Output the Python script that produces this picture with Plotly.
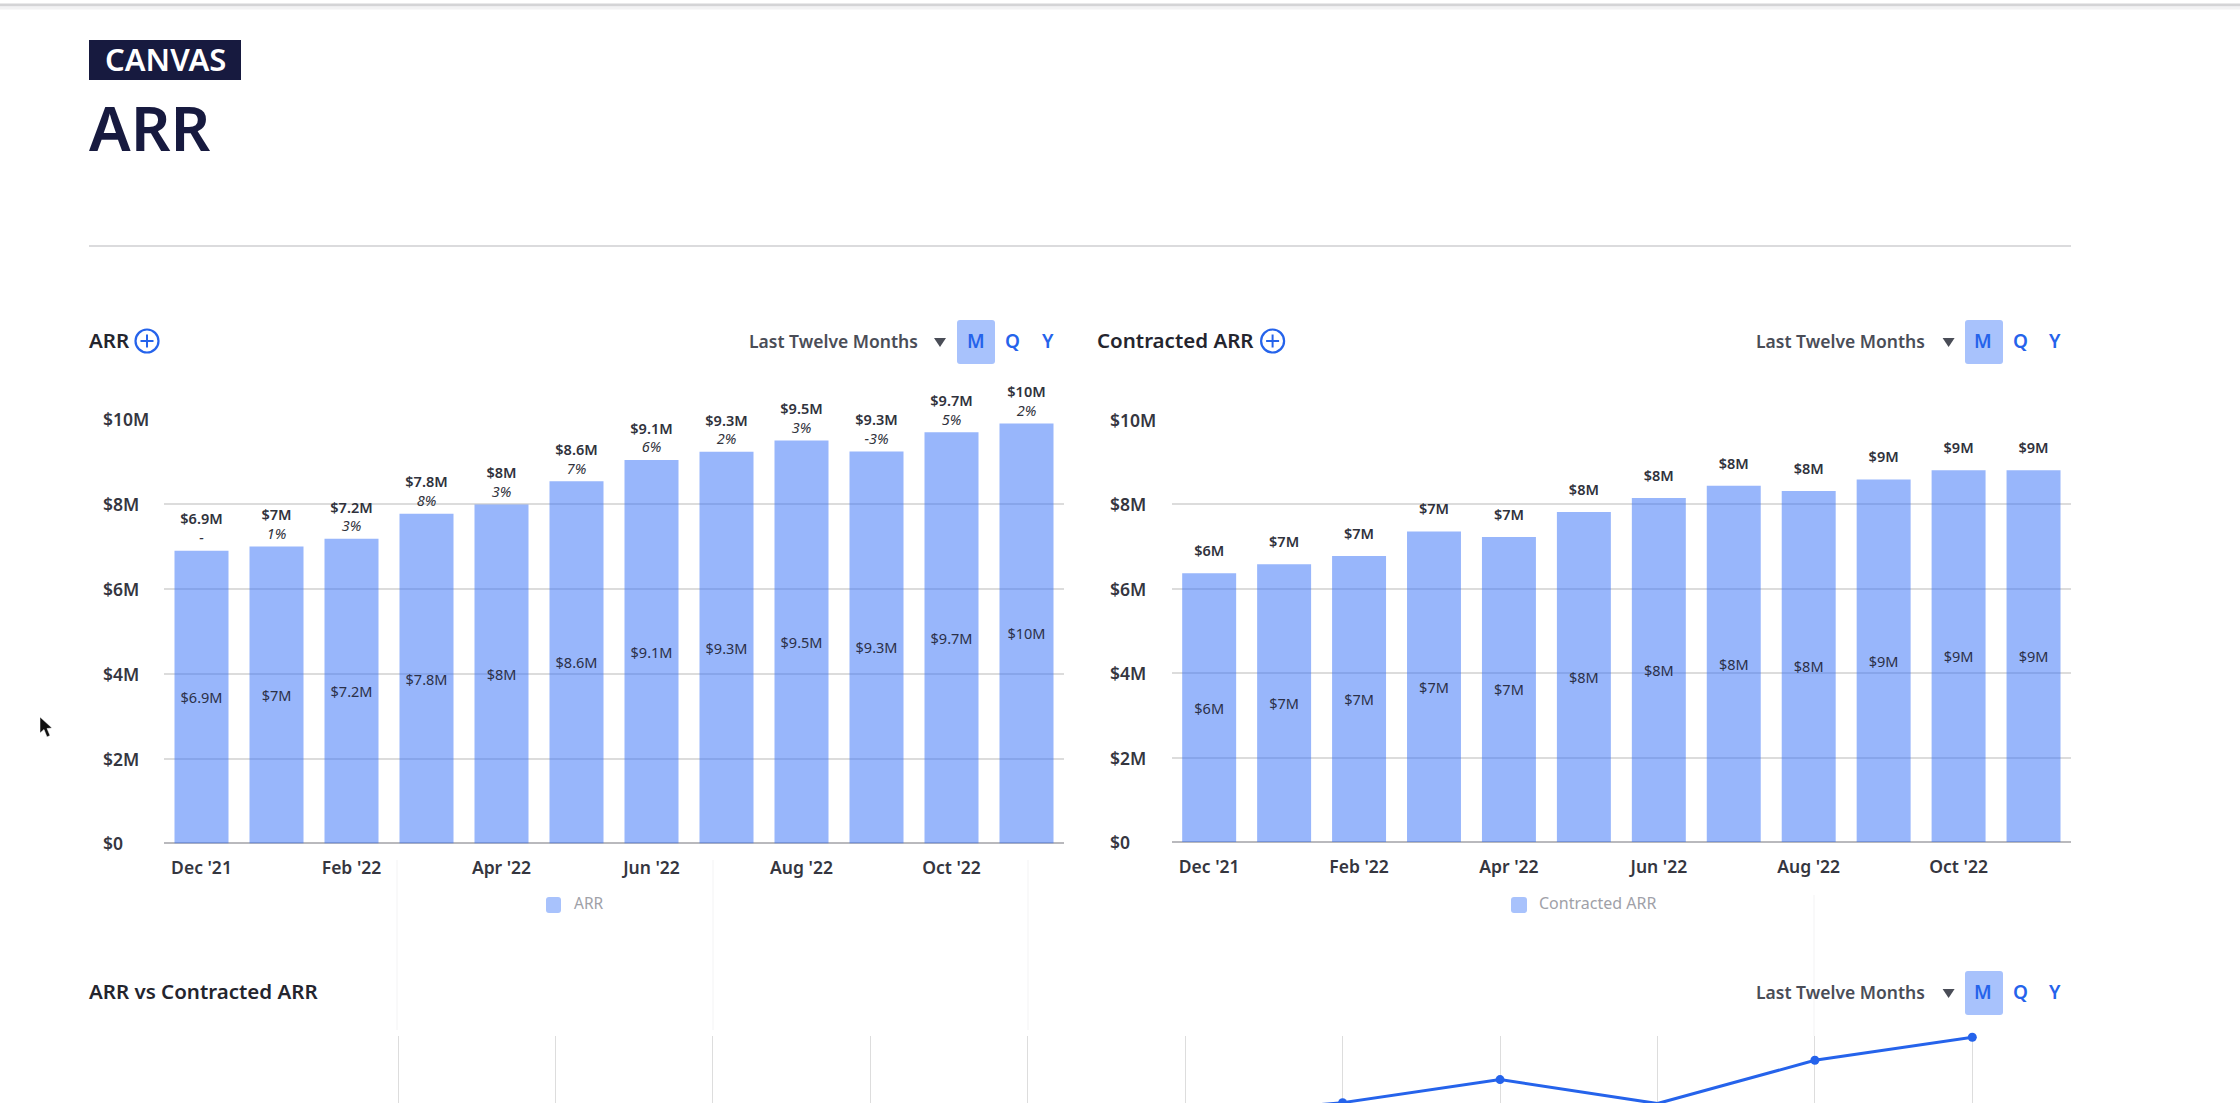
import plotly.graph_objects as go

W = 2240
H = 1103
FONT = "Noto Sans"
NAVY = "#171a3f"
DARK = "#35363f"
BLUE = "#2563eb"
BAR = "rgba(50,110,248,0.5)"
CHIP = "#a8c2fc"

############## Data ###################

months = ["Dec '21", "Jan '22", "Feb '22", "Mar '22", "Apr '22", "May '22",
          "Jun '22", "Jul '22", "Aug '22", "Sep '22", "Oct '22", "Nov '22"]
month_ticks = ["Dec '21", "Feb '22", "Apr '22", "Jun '22", "Aug '22", "Oct '22"]

arr_values = [6.90, 7.00, 7.18, 7.77, 7.99, 8.54, 9.04, 9.23, 9.50, 9.24, 9.69, 9.90]
arr_labels = ["$6.9M", "$7M", "$7.2M", "$7.8M", "$8M", "$8.6M",
              "$9.1M", "$9.3M", "$9.5M", "$9.3M", "$9.7M", "$10M"]
arr_growth = ["-", "1%", "3%", "8%", "3%", "7%", "6%", "2%", "3%", "-3%", "5%", "2%"]

contracted_values = [6.37, 6.58, 6.78, 7.36, 7.23, 7.82, 8.15, 8.44, 8.32, 8.59, 8.81, 8.81]
contracted_labels = ["$6M", "$7M", "$7M", "$7M", "$7M", "$8M",
                     "$8M", "$8M", "$8M", "$9M", "$9M", "$9M"]

# only the last five points of the bottom chart are on screen
line_values = [6.90, 7.00, 7.18, 7.77, 7.99, 8.54, 9.04, 9.19, 9.44, 9.18, 9.65, 9.90]

grid_ticks = [0, 2, 4, 6, 8]
y_ticks = [0, 2, 4, 6, 8, 10]
y_tick_labels = ["$0", "$2M", "$4M", "$6M", "$8M", "$10M"]

range_label = "Last Twelve Months"
period_labels = ["M", "Q", "Y"]


############## Pixel helpers ###################

def px(x):
    return x / W


def py(y):
    return 1 - y / H


def rounded_rect(x0, y0, x1, y1, r, color):
    path = (f"M {px(x0 + r)} {py(y0)} L {px(x1 - r)} {py(y0)} "
            f"Q {px(x1)} {py(y0)} {px(x1)} {py(y0 + r)} L {px(x1)} {py(y1 - r)} "
            f"Q {px(x1)} {py(y1)} {px(x1 - r)} {py(y1)} L {px(x0 + r)} {py(y1)} "
            f"Q {px(x0)} {py(y1)} {px(x0)} {py(y1 - r)} L {px(x0)} {py(y0 + r)} "
            f"Q {px(x0)} {py(y0)} {px(x0 + r)} {py(y0)} Z")
    return dict(type="path", xref="paper", yref="paper", path=path,
                fillcolor=color, line_width=0, layer="below")


def hline(x0, x1, y, color, width=1):
    return dict(type="line", xref="paper", yref="paper", x0=px(x0), x1=px(x1),
                y0=py(y), y1=py(y), line=dict(color=color, width=width), layer="below")


def vline(x, y0, y1, color, width=1):
    return dict(type="line", xref="paper", yref="paper", x0=px(x), x1=px(x),
                y0=py(y0), y1=py(y1), line=dict(color=color, width=width), layer="below")


def label(x, y, text, size=18, color=DARK, anchor="left", weight=400):
    return dict(xref="paper", yref="paper", x=px(x), y=py(y), text=text,
                showarrow=False, xanchor=anchor, yanchor="middle",
                font=dict(family=FONT, size=size, color=color, weight=weight))


def controls(x_text, x_tri, x_btn0, x_btn1, x_letters, yc):
    '''
    Range dropdown and M / Q / Y switch of one panel
    '''
    shapes = [rounded_rect(x_btn0, yc - 22, x_btn1, yc + 22, 3, CHIP)]
    shapes.append(dict(type="path", xref="paper", yref="paper", fillcolor="#4a4d57", line_width=0,
                       path=(f"M {px(x_tri - 6)} {py(yc - 4)} L {px(x_tri + 6)} {py(yc - 4)} "
                             f"L {px(x_tri)} {py(yc + 5)} Z")))
    notes = [label(x_text, yc - 1, range_label, size=17.5, color="#4a4d57", weight=600)]
    for x, letter in zip(x_letters, period_labels):
        notes.append(label(x, yc - 1, letter, size=19, color=BLUE, anchor="center", weight=600))
    return shapes, notes


def plus_icon(x, y):
    return [
        dict(type="circle", xref="paper", yref="paper", x0=px(x - 11.5), x1=px(x + 11.5),
             y0=py(y + 11.5), y1=py(y - 11.5), line=dict(color=BLUE, width=2.2)),
        hline(x - 6.5, x + 6.5, y, BLUE, 2),
        vline(x, y - 6.5, y + 6.5, BLUE, 2),
    ]


############## Figure ###################

fig = go.Figure()

# ARR panel
fig.add_trace(go.Bar(
    x=months, y=arr_values, xaxis="x", yaxis="y", marker=dict(color=BAR, line_width=0),
    width=0.72, text=arr_labels, textposition="inside", insidetextanchor="middle", textangle=0,
    textfont=dict(family=FONT, size=14.5, color="#2b3048"), cliponaxis=False,
))
fig.add_trace(go.Scatter(
    x=months, y=[v + 0.09 for v in arr_values], xaxis="x", yaxis="y", mode="text",
    textposition="top center",
    text=[f"<span style='font-weight:600'>{a}</span><br><i>{g}</i>" for a, g in zip(arr_labels, arr_growth)],
    textfont=dict(family=FONT, size=14.5, color="#30323c"), cliponaxis=False,
))

# Contracted ARR panel
fig.add_trace(go.Bar(
    x=months, y=contracted_values, xaxis="x2", yaxis="y2", marker=dict(color=BAR, line_width=0),
    width=0.72, text=contracted_labels, textposition="inside", insidetextanchor="middle", textangle=0,
    textfont=dict(family=FONT, size=14.5, color="#2b3048"), cliponaxis=False,
))
fig.add_trace(go.Scatter(
    x=months, y=[v + 0.32 for v in contracted_values], xaxis="x2", yaxis="y2", mode="text",
    textposition="top center",
    text=contracted_labels, textfont=dict(family=FONT, size=14.5, color="#30323c", weight=600),
    cliponaxis=False,
))

# ARR vs Contracted ARR panel, cut by the bottom of the page
fig.add_trace(go.Scatter(
    x=months, y=line_values, xaxis="x3", yaxis="y3", mode="lines+markers",
    line=dict(color="#2563eb", width=3), marker=dict(color="#2563eb", size=9), cliponaxis=False,
))

bar_x = dict(type="category", categoryorder="array", categoryarray=months, range=[-0.5, 11.5],
             tickmode="array", tickvals=month_ticks, ticktext=month_ticks, showgrid=False,
             zeroline=False, showline=False, ticks="", ticklabelstandoff=12,
             tickfont=dict(family=FONT, size=17.5, color=DARK, weight=600), fixedrange=True)
bar_y = dict(range=[0, 10.5], tickmode="array", tickvals=grid_ticks, showticklabels=False,
             gridcolor="#dcdcdc", gridwidth=2, zeroline=True, zerolinecolor="#b9b9bd",
             zerolinewidth=2, showline=False, ticks="", fixedrange=True)

fig.update_layout(
    width=W, height=H, margin=dict(l=0, r=0, t=0, b=0), showlegend=False, barmode="overlay",
    paper_bgcolor="white", plot_bgcolor="white", template=None,
    xaxis=dict(bar_x, domain=[px(164), px(1064)], anchor="y"),
    yaxis=dict(bar_y, domain=[py(843.4), py(843.4 - 10.5 * 42.42)], anchor="x"),
    xaxis2=dict(bar_x, domain=[px(1171.7), px(2071)], anchor="y2"),
    yaxis2=dict(bar_y, domain=[py(842), py(842 - 10.5 * 42.2)], anchor="x2"),
    xaxis3=dict(type="category", categoryorder="array", categoryarray=months, range=[-0.5, 11.5],
                domain=[px(162), px(2051)], anchor="y3", showticklabels=False, ticks="",
                tickmode="array", tickvals=months[1:], showgrid=True, gridcolor="#dddddd",
                zeroline=False, showline=False, fixedrange=True),
    yaxis3=dict(range=[9.186, 9.914], domain=[0, py(1036)], anchor="x3", showticklabels=False,
                showgrid=False, zeroline=False, showline=False, ticks="", fixedrange=True),
)

shapes = [
    # browser edge at the very top
    hline(0, W, 5, "#d4d4d6", 3),
    hline(0, W, 8, "#f2f2f3", 3),
    # page header
    dict(type="rect", xref="paper", yref="paper", x0=px(89), x1=px(241), y0=py(80), y1=py(40),
         fillcolor=NAVY, line_width=0, layer="below"),
    hline(89, 2071, 246, "#cfcfd2", 1.5),
    # legend chips
    rounded_rect(546, 897, 561, 913, 3, CHIP),
    rounded_rect(1511, 897, 1527, 913, 3, CHIP),
    # faint leftovers of the page capture
    vline(397, 860, 1030, "#f3f3f4"),
    vline(713, 860, 1030, "#f3f3f4"),
    vline(1028, 860, 1030, "#f3f3f4"),
    vline(1814, 895, 1036, "#f3f3f4"),
    # mouse cursor
    dict(type="path", xref="paper", yref="paper", fillcolor="#111111", line=dict(color="white", width=0.5),
         path=(f"M {px(40)} {py(717)} L {px(40)} {py(733)} L {px(44)} {py(729.5)} L {px(47)} {py(737)} "
               f"L {px(50)} {py(735.5)} L {px(47)} {py(728.5)} L {px(52)} {py(728)} Z")),
]
shapes += plus_icon(147, 341) + plus_icon(1272.6, 341)

notes = [
    label(165, 59, "CANVAS", size=31, color="white", anchor="center", weight=600),
    label(87, 127, "ARR", size=62, color=NAVY, weight=600),
    label(87, 340, "ARR", size=20.5, color="#24252e", weight=600),
    label(1095, 340, "Contracted ARR", size=20.5, color="#24252e", weight=600),
    label(87, 991, "ARR vs Contracted ARR", size=20.5, color="#24252e", weight=600),
    label(572, 903, "ARR", size=15.5, color="#a0a1a8"),
    label(1537, 903, "Contracted ARR", size=16, color="#a0a1a8"),
]

# value axis labels sit left aligned, so they are placed from the tick arrays
for tick, text in zip(y_ticks, y_tick_labels):
    notes.append(dict(xref="paper", yref="y", x=px(101), y=tick, text=text, showarrow=False,
                      xanchor="left", font=dict(family=FONT, size=17.5, color=DARK, weight=600)))
    notes.append(dict(xref="paper", yref="y2", x=px(1108), y=tick, text=text, showarrow=False,
                      xanchor="left", font=dict(family=FONT, size=17.5, color=DARK, weight=600)))

for row in [
    controls(747, 940, 957, 995, [976, 1012, 1048], 342),
    controls(1754, 1948.6, 1965, 2003, [1983, 2020, 2055], 342),
    controls(1754, 1948.6, 1965, 2003, [1983, 2020, 2055], 993),
]:
    shapes += row[0]
    notes += row[1]

fig.update_layout(shapes=shapes, annotations=notes)

fig.write_html("out.html", config=dict(displayModeBar=False),
               post_script="document.body.style.margin='0';")
